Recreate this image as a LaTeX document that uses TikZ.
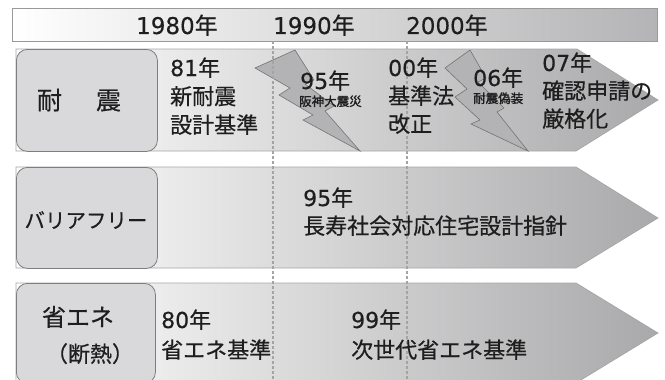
\documentclass[tikz,border=0pt]{standalone}
\usepackage{fontspec}
\setmainfont[FakeBold=0.5,AutoFakeBold=0.5]{Noto Sans CJK JP}
\newfontfamily\jpbold[FakeBold=1.6]{Noto Sans CJK JP}
\newfontfamily\dig[FakeBold=0.3]{DejaVu Sans}
\definecolor{txt}{HTML}{1E1E1E}
\definecolor{boxfill}{HTML}{D9D9DB}
\definecolor{boxline}{HTML}{7E7E7E}
\definecolor{bandR}{HTML}{A9A9AB}
\definecolor{barR}{HTML}{B4B4B6}
\definecolor{boltfill}{HTML}{B3B3B5}
\definecolor{dashcol}{HTML}{A4A4A4}
\newcommand\dg[1]{{\dig #1}}
\begin{document}
\begin{tikzpicture}[x=1pt,y=-1pt,
  lab/.style={fill=boxfill,draw=boxline,line width=0.8pt,rounded corners=11pt,inner sep=0pt,anchor=north west},
  band/.style={draw=gray!70,line width=0.7pt,left color=white,right color=bandR},
  boltshape/.style={fill=boltfill,draw=black!55,line width=0.6pt,line join=miter},
  dashline/.style={draw=dashcol,line width=1.6pt,dash pattern=on 3pt off 2pt},
  tx/.style={anchor=base west,inner sep=0pt,text=txt,font=\fontsize{22}{26}\selectfont},
  small/.style={anchor=base west,inner sep=0pt,text=txt,font=\fontsize{12.5}{14}\selectfont\jpbold},
  yr/.style={anchor=base west,inner sep=0pt,text=txt,font=\fontsize{23}{26}\selectfont},
  ltx/.style={anchor=base,inner sep=0pt,text=txt}]
\useasboundingbox (0,0) rectangle (665,380);
\clip (0,0) rectangle (665,380);
% top bar
\node[draw=gray!80,line width=0.8pt,left color=white,right color=barR,minimum width=645pt,minimum height=33pt,inner sep=0pt,anchor=north west] (bar) at (12,8) {};
\node[yr] (y80) at (136,34) {\dg{1980}年};
\node[yr] (y90) at (273,34) {\dg{1990}年};
\node[yr] (y00) at (406,34) {\dg{2000}年};
% bands
\path[band] (16,49) -- (577,49) -- (658,100) -- (576,151) -- (16,151) -- cycle;
\path[band] (16,167) -- (576,167) -- (658,218) -- (576,268) -- (16,268) -- cycle;
\path[band] (16,283) -- (576,283) -- (658,333) -- (576,383) -- (16,383) -- cycle;
% label boxes
\node[lab,minimum width=141pt,minimum height=102pt] (L1) at (16,49) {};
\node[lab,minimum width=141pt,minimum height=101pt] (L2) at (16,167) {};
\node[lab,minimum width=139pt,minimum height=100pt] (L3) at (16,283) {};
\node[ltx,font=\fontsize{25}{28}\selectfont] (L1t) at (79,109.5) {耐\hskip34pt震};
\node[ltx,font=\fontsize{20.5}{24}\selectfont] (L2t) at (86,228) {バリアフリー};
\node[ltx,font=\fontsize{24}{28}\selectfont] (L3a) at (78,326) {省エネ};
\node[ltx,font=\fontsize{22}{26}\selectfont] (L3b) at (90,362) {（断熱）};
% bolts
\draw[boltshape] (295,50) -- (314,80) -- (305,84) -- (334,106) -- (325,111) -- (360,151)
  -- (303,120) -- (313,115) -- (279,95) -- (290,88) -- (255,68) -- cycle;
\draw[boltshape] (470,50) -- (486,78) -- (478,82) -- (504,108) -- (497,112) -- (528,151)
  -- (471,124) -- (480,120) -- (455,97) -- (467,89) -- (445,68) -- cycle;
% dashed year lines
\coordinate (d90a) at (273,41); \coordinate (d90b) at (273,380);
\coordinate (d00a) at (407,41); \coordinate (d00b) at (407,380);
\draw[dashline] (d90a) -- (d90b);
\draw[dashline] (d00a) -- (d00b);
% row 1 texts
\node[tx] (r1a) at (170,76) {\dg{81}年};
\node[tx] (r1b) at (170,104.5) {新耐震};
\node[tx] (r1c) at (170,133) {設計基準};
\node[tx] (r1d) at (300,89) {\dg{95}年};
\node[small] (r1e) at (299,106) {阪神大震災};
\node[tx] (r1f) at (388,76) {\dg{00}年};
\node[tx] (r1g) at (388,104) {基準法};
\node[tx] (r1h) at (388,132) {改正};
\node[tx] (r1i) at (473,86) {\dg{06}年};
\node[small] (r1j) at (473,103) {耐震偽装};
\node[tx] (r1k) at (542,71) {\dg{07}年};
\node[tx] (r1l) at (542,99) {確認申請の};
\node[tx] (r1m) at (542,127) {厳格化};
% row 2 texts
\node[tx] (r2a) at (303,206) {\dg{95}年};
\node[tx] (r2b) at (303,234) {長寿社会対応住宅設計指針};
% row 3 texts
\node[tx] (r3a) at (161,328) {\dg{80}年};
\node[tx] (r3b) at (161,358) {省エネ基準};
\node[tx] (r3c) at (351,328) {\dg{99}年};
\node[tx] (r3d) at (351,358) {次世代省エネ基準};
\end{tikzpicture}
\end{document}
